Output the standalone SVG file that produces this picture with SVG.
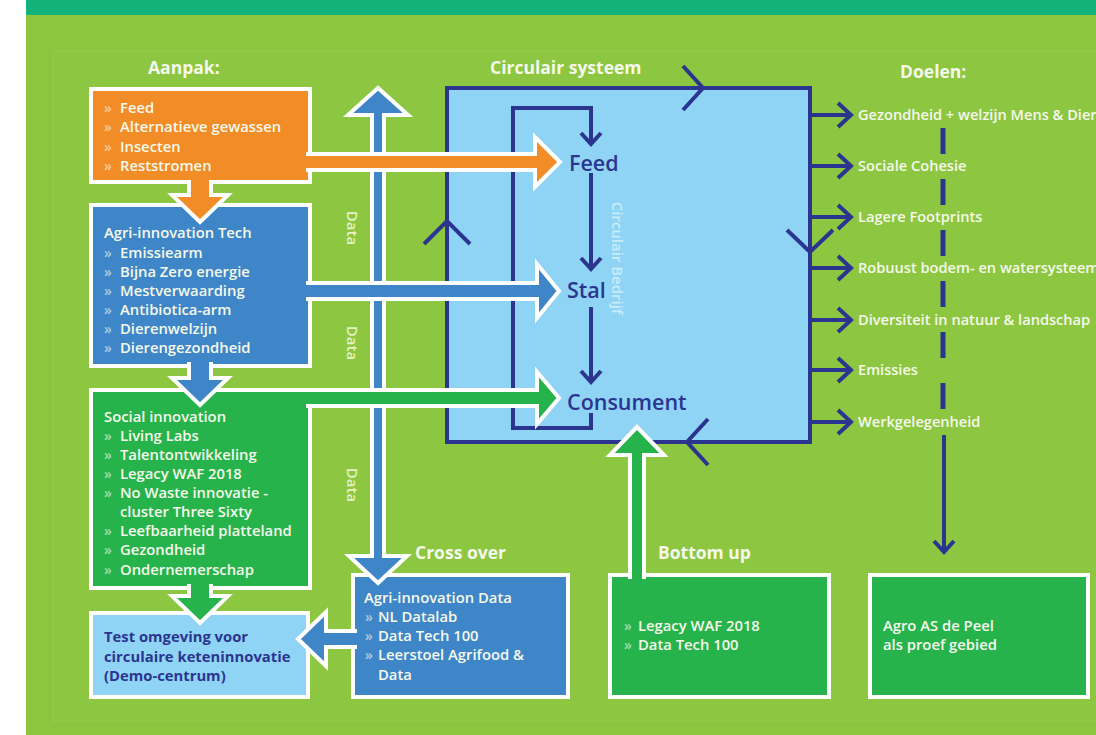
<svg xmlns="http://www.w3.org/2000/svg" width="1096" height="735" viewBox="0 0 1096 735">
<defs>
<style>
text{font-family:"Open Sans","Liberation Sans",sans-serif}
.t{fill:#f5f9ec;font-size:14.8px;font-weight:600}
.b{fill:#f5f9ec;font-size:14px;font-weight:600;opacity:.6}
.h{fill:#f5f9ec;font-size:17.5px;font-weight:700}
.g{fill:#f5f9ec;font-size:14.6px;font-weight:600}
.n{fill:#2b3590;font-size:14.8px;font-weight:700}
.c{fill:#2b3590;font-size:21.5px;font-weight:600}
.box{stroke:#fff;stroke-width:4}
.arr{stroke:#fff;stroke-width:4;stroke-linejoin:miter}
.nv{fill:none;stroke:#2b3590;stroke-width:4;stroke-linejoin:miter}
.dl{fill:#e4f2c8;font-size:15px;font-weight:600}
</style>
<marker id="ch" markerWidth="18" markerHeight="28" refX="15" refY="14" orient="auto" markerUnits="userSpaceOnUse"><path d="M2,2 L15,14 L2,26" fill="none" stroke="#2b3590" stroke-width="4"/></marker>
<marker id="cs" markerWidth="16" markerHeight="24" refX="13" refY="12" orient="auto" markerUnits="userSpaceOnUse"><path d="M2,2 L13,12 L2,22" fill="none" stroke="#2b3590" stroke-width="4"/></marker>
</defs>
<rect x="0" y="0" width="1096" height="735" fill="#ffffff"/>
<rect x="26" y="0" width="1070" height="735" fill="#8cc63f"/>
<rect x="26" y="0" width="1070" height="15" fill="#14b27b"/>
<rect x="53" y="51" width="1050" height="670" fill="#8dc640" stroke="#95cb4e" stroke-width="1"/>

<g id="headers">
<text class="h" x="148" y="74">Aanpak:</text>
<text class="h" x="490" y="74">Circulair systeem</text>
<text class="h" x="900" y="78">Doelen:</text>
<text class="h" x="415" y="559">Cross over</text>
<text class="h" x="658" y="559">Bottom up</text>
</g>

<g id="circulair-systeem">
<rect x="447" y="88" width="363" height="354" fill="#8fd4f4" stroke="#2b3590" stroke-width="4"/>
<polyline class="nv" points="683,66 703,88 683,110"/>
<polyline class="nv" points="424,244 447,221 470,244"/>
<polyline class="nv" points="787,230 810,252 833,230"/>
<polyline class="nv" points="708,419 687,442 708,465"/>
<text transform="translate(618,258) rotate(90)" text-anchor="middle" dominant-baseline="central" fill="#c9ecfb" font-size="15" font-weight="600">Circulair Bedrijf</text>
</g>

<g id="circulair-bedrijf-loop">
<path class="nv" d="M591,413 V428 H513 V108 H591 V144" marker-end="url(#cs)"/>
<path class="nv" d="M591,173 V269" marker-end="url(#cs)"/>
<path class="nv" d="M591,307 V382" marker-end="url(#cs)"/>
</g>
<g id="feed"><text class="c" x="569" y="171">Feed</text></g>
<g id="stal"><text class="c" x="567" y="298">Stal</text></g>
<g id="consument"><text class="c" x="567" y="410">Consument</text></g>

<g id="doelen">
<text class="g" x="858" y="120">Gezondheid + welzijn Mens &amp; Dier</text>
<text class="g" x="858" y="171">Sociale Cohesie</text>
<text class="g" x="858" y="222">Lagere Footprints</text>
<text class="g" x="858" y="273">Robuust bodem- en watersysteem</text>
<text class="g" x="858" y="325">Diversiteit in natuur &amp; landschap</text>
<text class="g" x="858" y="375">Emissies</text>
<text class="g" x="858" y="427">Werkgelegenheid</text>
</g>

<g id="connectors-doelen">
<path class="nv" d="M810,115 H851" marker-end="url(#ch)"/>
<path class="nv" d="M810,166 H851" marker-end="url(#ch)"/>
<path class="nv" d="M810,217 H851" marker-end="url(#ch)"/>
<path class="nv" d="M810,268 H851" marker-end="url(#ch)"/>
<path class="nv" d="M810,320 H851" marker-end="url(#ch)"/>
<path class="nv" d="M810,370 H851" marker-end="url(#ch)"/>
<path class="nv" d="M810,422 H851" marker-end="url(#ch)"/>
<path d="M943,128 V410" fill="none" stroke="#2b3590" stroke-width="5" stroke-dasharray="26 25"/>
<path class="nv" d="M944,435 V552" marker-end="url(#cs)"/>
</g>

<g id="feed-box">
<rect class="box" x="91" y="89" width="219" height="93" fill="#f28c26"/>
<text class="b" x="104" y="113">»</text><text class="t" x="120" y="113">Feed</text>
<text class="b" x="104" y="132">»</text><text class="t" x="120" y="132">Alternatieve gewassen</text>
<text class="b" x="104" y="152">»</text><text class="t" x="120" y="152">Insecten</text>
<text class="b" x="104" y="171">»</text><text class="t" x="120" y="171">Reststromen</text>
</g>

<g id="agri-innovation-tech">
<rect class="box" x="91" y="205" width="219" height="161" fill="#3f86c8"/>
<text class="t" x="104" y="238">Agri-innovation Tech</text>
<text class="b" x="104" y="258">»</text><text class="t" x="120" y="258">Emissiearm</text>
<text class="b" x="104" y="277">»</text><text class="t" x="120" y="277">Bijna Zero energie</text>
<text class="b" x="104" y="296">»</text><text class="t" x="120" y="296">Mestverwaarding</text>
<text class="b" x="104" y="315">»</text><text class="t" x="120" y="315">Antibiotica-arm</text>
<text class="b" x="104" y="334">»</text><text class="t" x="120" y="334">Dierenwelzijn</text>
<text class="b" x="104" y="353">»</text><text class="t" x="120" y="353">Dierengezondheid</text>
</g>

<g id="social-innovation">
<rect class="box" x="91" y="390" width="219" height="198" fill="#27b34b"/>
<text class="t" x="104" y="422">Social innovation</text>
<text class="b" x="104" y="441">»</text><text class="t" x="120" y="441">Living Labs</text>
<text class="b" x="104" y="460">»</text><text class="t" x="120" y="460">Talentontwikkeling</text>
<text class="b" x="104" y="479">»</text><text class="t" x="120" y="479">Legacy WAF 2018</text>
<text class="b" x="104" y="498">»</text><text class="t" x="120" y="498">No Waste innovatie -</text>
<text class="t" x="120" y="517">cluster Three Sixty</text>
<text class="b" x="104" y="536">»</text><text class="t" x="120" y="536">Leefbaarheid platteland</text>
<text class="b" x="104" y="555">»</text><text class="t" x="120" y="555">Gezondheid</text>
<text class="b" x="104" y="575">»</text><text class="t" x="120" y="575">Ondernemerschap</text>
</g>

<g id="test-omgeving">
<rect class="box" x="91" y="613" width="217" height="84" fill="#8fd4f4"/>
<text class="n" x="104" y="642">Test omgeving voor</text>
<text class="n" x="104" y="662">circulaire keteninnovatie</text>
<text class="n" x="104" y="681">(Demo-centrum)</text>
</g>

<g id="agri-innovation-data">
<rect class="box" x="353" y="575" width="215" height="122" fill="#3f86c8"/>
<text class="t" x="364" y="603">Agri-innovation Data</text>
<text class="b" x="365" y="622">»</text><text class="t" x="378" y="622">NL Datalab</text>
<text class="b" x="365" y="641">»</text><text class="t" x="378" y="641">Data Tech 100</text>
<text class="b" x="365" y="660">»</text><text class="t" x="378" y="660">Leerstoel Agrifood &amp;</text>
<text class="t" x="378" y="680">Data</text>
</g>

<g id="bottom-up">
<rect class="box" x="610" y="575" width="219" height="122" fill="#27b34b"/>
<text class="b" x="624" y="631">»</text><text class="t" x="638" y="631">Legacy WAF 2018</text>
<text class="b" x="624" y="650">»</text><text class="t" x="638" y="650">Data Tech 100</text>
</g>

<g id="agro-as-de-peel">
<rect class="box" x="870" y="575" width="218" height="122" fill="#27b34b"/>
<text class="t" x="883" y="631">Agro AS de Peel</text>
<text class="t" x="883" y="650">als proef gebied</text>
</g>

<g id="connectors">
<path class="arr" fill="#3f86c8" d="M372,115 H348 L378,88 L408,115 H384 V556 H407 L378,583 L349,556 H372 Z"/>
<path class="arr" fill="#f28c26" d="M306,154 H535 V137 L560,162 L535,187 V170 H306"/>
<path class="arr" fill="#3f86c8" d="M306,283 H537 V264 L559,291 L537,318 V299 H306"/>
<path class="arr" fill="#27b34b" d="M306,390 H537 V372 L559,398 L537,424 V406 H306"/>
<path class="arr" fill="#f28c26" d="M189,180 V195 H172 L200,222 L228,195 H211 V180"/>
<path class="arr" fill="#3f86c8" d="M189,362 V378 H172 L200,405 L228,378 H211 V362"/>
<path class="arr" fill="#27b34b" d="M189,584 V596 H172 L200,623 L228,596 H211 V584"/>
<path class="arr" fill="#3f86c8" d="M357,631 H326 V612 L298,639 L326,666 V647 H357"/>
<path class="arr" fill="#27b34b" d="M630,579 V455 H610 L637,427 L664,455 H644 V579"/>
<text class="dl" transform="translate(353,228) rotate(90)" text-anchor="middle" dominant-baseline="central">Data</text>
<text class="dl" transform="translate(353,343) rotate(90)" text-anchor="middle" dominant-baseline="central">Data</text>
<text class="dl" transform="translate(353,485) rotate(90)" text-anchor="middle" dominant-baseline="central">Data</text>
</g>
</svg>
